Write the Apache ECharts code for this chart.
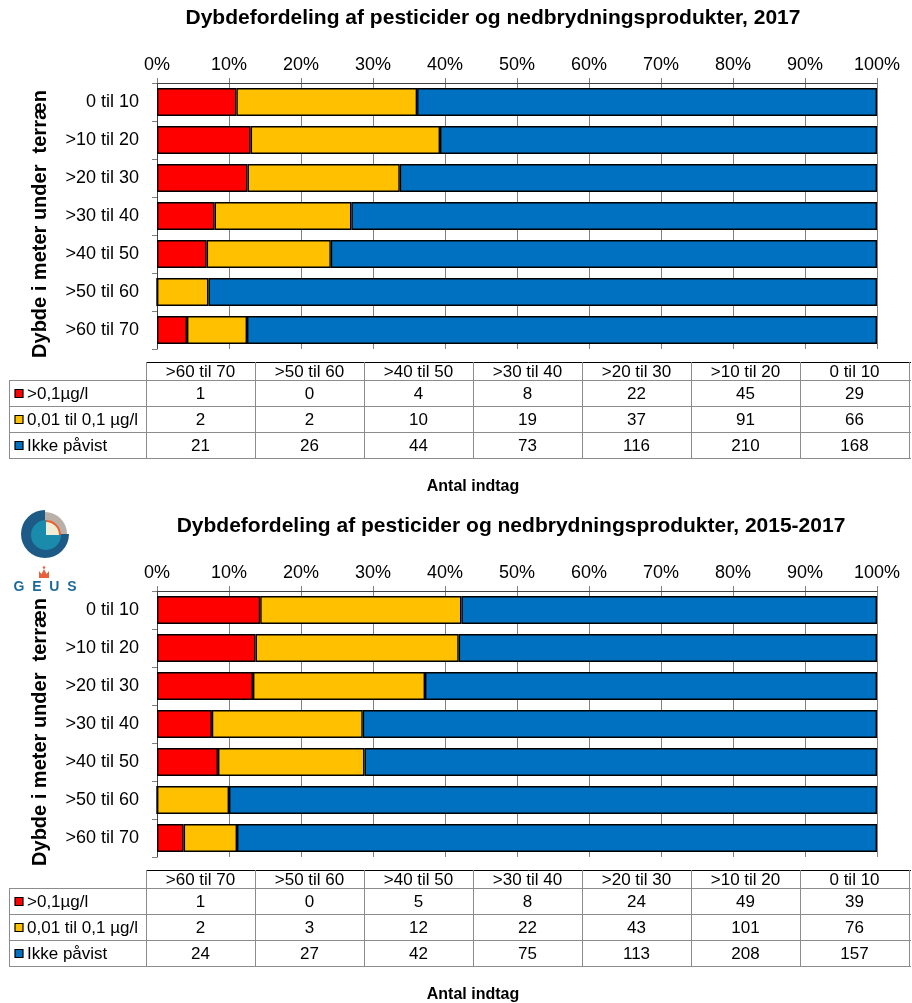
<!DOCTYPE html>
<html>
<head>
<meta charset="utf-8">
<script src="https://cdn.jsdelivr.net/npm/echarts@6/dist/echarts.min.js"></script>
<style>
html,body{margin:0;padding:0;background:#fff;}
#c{width:912px;height:1003px;}
</style>
</head>
<body>
<div id="c"></div>
<script>
// ---- data ----
const categories = ['0 til 10', '>10 til 20', '>20 til 30', '>30 til 40', '>40 til 50', '>50 til 60', '>60 til 70'];
const seriesNames = ['>0,1µg/l', '0,01 til 0,1 µg/l', 'Ikke påvist'];
const titles = ['Dybdefordeling af pesticider og nedbrydningsprodukter, 2017',
                'Dybdefordeling af pesticider og nedbrydningsprodukter, 2015-2017'];
const high2017 = [29, 45, 22, 8, 4, 0, 1];
const mid2017 = [66, 91, 37, 19, 10, 2, 2];
const none2017 = [168, 210, 116, 73, 44, 26, 21];
const high1517 = [39, 49, 24, 8, 5, 0, 1];
const mid1517 = [76, 101, 43, 22, 12, 3, 2];
const none1517 = [157, 208, 113, 75, 42, 27, 24];
const yAxisTitle = 'Dybde i meter under  terræn';
const tableTitle = 'Antal indtag';

// ---- styling ----
const FONT = '"Liberation Sans", Arial, sans-serif';
const COLORS = ['#FF0000', '#FFC000', '#0070C0'];
const OFFS = [0, 508];
const chartsData = [[high2017, mid2017, none2017], [high1517, mid1517, none1517]];

const grids = [], xAxes = [], yAxes = [], series = [], graphics = [];

chartsData.forEach((sets, k) => {
  const oy = OFFS[k];
  grids.push({left: 157, top: 83 + oy, width: 720, height: 266, containLabel: false});
  xAxes.push({
    type: 'value', gridIndex: k, position: 'top', min: 0, max: 100, interval: 10,
    axisLine: {show: true, lineStyle: {color: '#404040', width: 1}},
    axisTick: {show: true, length: 5, lineStyle: {color: '#808080'}},
    axisLabel: {formatter: '{value}%', color: '#000', fontSize: 18, fontFamily: FONT, margin: 9},
    splitLine: {show: true, lineStyle: {color: '#808080', width: 1}}
  });
  yAxes.push({
    type: 'category', gridIndex: k, data: categories, inverse: true,
    axisLine: {show: true, lineStyle: {color: '#404040', width: 1}},
    axisTick: {show: true, length: 5, lineStyle: {color: '#808080'}},
    axisLabel: {color: '#000', fontSize: 18, fontFamily: FONT, margin: 18}
  });
  const totals = categories.map((_, i) => sets[0][i] + sets[1][i] + sets[2][i]);
  sets.forEach((arr, s) => {
    series.push({
      type: 'bar', name: seriesNames[s], xAxisIndex: k, yAxisIndex: k, stack: 'st' + k,
      barWidth: 28,
      itemStyle: {color: COLORS[s], borderColor: '#000', borderWidth: 1.4},
      emphasis: {disabled: true},
      data: arr.map((v, i) => v / totals[i] * 100)
    });
  });

  // title
  graphics.push({type: 'text', style: {text: titles[k], x: k === 0 ? 493 : 511, y: 18 + oy,
    textAlign: 'center', textVerticalAlign: 'middle', fill: '#000',
    font: 'bold 21px ' + FONT}});
  // y-axis title
  graphics.push({type: 'text', x: 40, y: 224 + oy, rotation: Math.PI / 2,
    style: {text: yAxisTitle, x: 0, y: 0, textAlign: 'center', textVerticalAlign: 'middle',
      fill: '#000', font: 'bold 20px ' + FONT}});

  // data table
  const x0 = 146, cw = 109, xl = 9, xr = 911;
  const yH = 362 + oy, yR = [380 + oy, 406 + oy, 432 + oy, 458 + oy];
  const tableCats = categories.slice().reverse();
  graphics.push({type: 'line', shape: {x1: x0, y1: yH + 0.5, x2: xr, y2: yH + 0.5},
    style: {stroke: '#000', lineWidth: 1}});
  yR.forEach(y => graphics.push({type: 'line', shape: {x1: xl, y1: y + 0.5, x2: xr, y2: y + 0.5},
    style: {stroke: '#8c8c8c', lineWidth: 1}}));
  graphics.push({type: 'line', shape: {x1: xl + 0.5, y1: yR[0], x2: xl + 0.5, y2: yR[3]},
    style: {stroke: '#8c8c8c', lineWidth: 1}});
  for (let c = 0; c <= 7; c++) {
    const x = x0 + c * cw + 0.5;
    graphics.push({type: 'line', shape: {x1: x, y1: yH, x2: x, y2: yR[3]},
      style: {stroke: '#8c8c8c', lineWidth: 1}});
  }
  tableCats.forEach((cat, c) => {
    graphics.push({type: 'text', style: {text: cat, x: x0 + c * cw + cw / 2, y: (yH + yR[0]) / 2 + 1,
      textAlign: 'center', textVerticalAlign: 'middle', fill: '#000', font: '17px ' + FONT}});
  });
  sets.forEach((arr, s) => {
    const yc = (yR[s] + yR[s + 1]) / 2 + 1;
    graphics.push({type: 'rect', shape: {x: 15, y: yc - 4.5, width: 8, height: 8},
      style: {fill: COLORS[s], stroke: '#000', lineWidth: 1.2}});
    graphics.push({type: 'text', style: {text: seriesNames[s], x: 27, y: yc,
      textAlign: 'left', textVerticalAlign: 'middle', fill: '#000', font: '17px ' + FONT}});
    const rev = arr.slice().reverse();
    rev.forEach((v, c) => {
      graphics.push({type: 'text', style: {text: String(v), x: x0 + c * cw + cw / 2, y: yc,
        textAlign: 'center', textVerticalAlign: 'middle', fill: '#000', font: '17px ' + FONT}});
    });
  });
  graphics.push({type: 'text', style: {text: tableTitle, x: 473, y: 487 + oy,
    textAlign: 'center', textVerticalAlign: 'middle', fill: '#000', font: 'bold 16px ' + FONT}});
});

// GEUS logo
const lcx = 45, lcy = 534;
graphics.push({type: 'sector', shape: {cx: lcx, cy: lcy, r: 24, r0: 0, startAngle: 0, endAngle: Math.PI * 1.5, clockwise: true},
  style: {fill: '#1d5b86'}});
graphics.push({type: 'sector', shape: {cx: lcx, cy: lcy, r: 22, r0: 14, startAngle: -Math.PI / 2, endAngle: 0, clockwise: true},
  style: {fill: '#b9b0a9'}});
graphics.push({type: 'sector', shape: {cx: lcx + 1, cy: lcy + 1, r: 15, r0: 0, startAngle: 0, endAngle: Math.PI * 1.5, clockwise: true},
  style: {fill: '#1a8bab'}});
graphics.push({type: 'sector', shape: {cx: lcx + 1, cy: lcy + 1, r: 14, r0: 0, startAngle: -Math.PI / 2, endAngle: 0, clockwise: true},
  style: {fill: '#f1eed7'}});
graphics.push({type: 'sector', shape: {cx: lcx + 1, cy: lcy + 1, r: 15, r0: 13, startAngle: -Math.PI / 2, endAngle: 0, clockwise: true},
  style: {fill: '#e8602c'}});
graphics.push({type: 'polygon', shape: {points: [[39, 578], [39, 571], [41.5, 574], [44, 569], [46.5, 574], [49, 571], [49, 578]]},
  style: {fill: '#e8603c'}});
graphics.push({type: 'circle', shape: {cx: 44, cy: 567.5, r: 1.3}, style: {fill: '#e8603c'}});
graphics.push({type: 'text', style: {text: 'G  E  U  S', x: 45, y: 587, textAlign: 'center', textVerticalAlign: 'middle',
  fill: '#1d6a99', font: 'bold 14px ' + FONT}});

const chart = echarts.init(document.getElementById('c'), null, {renderer: 'canvas'});
chart.setOption({
  backgroundColor: '#fff',
  animation: false,
  legend: {show: false},
  tooltip: {show: false},
  grid: grids,
  xAxis: xAxes,
  yAxis: yAxes,
  series: series,
  graphic: graphics
});
</script>
</body>
</html>
